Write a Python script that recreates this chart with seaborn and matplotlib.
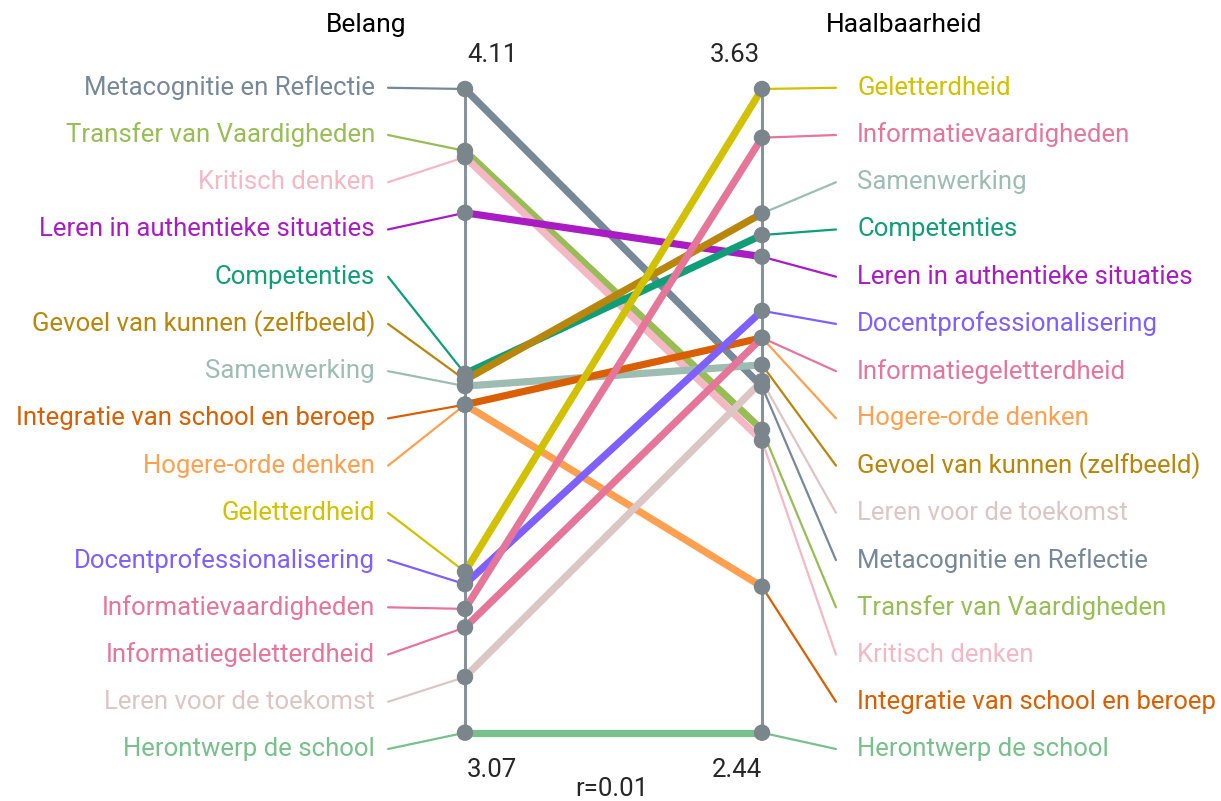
import numpy as np
import pandas as pd
import matplotlib
matplotlib.use('Agg')
import matplotlib.pyplot as plt
import seaborn as sns

sns.set_style('white')
plt.rcParams['font.family'] = ['Roboto', 'DejaVu Sans']

# thema's in volgorde van belang
themas = [
    'Metacognitie en Reflectie', 'Transfer van Vaardigheden', 'Kritisch denken',
    'Leren in authentieke situaties', 'Competenties', 'Gevoel van kunnen (zelfbeeld)',
    'Samenwerking', 'Integratie van school en beroep', 'Hogere-orde denken',
    'Geletterdheid', 'Docentprofessionalisering', 'Informatievaardigheden',
    'Informatiegeletterdheid', 'Leren voor de toekomst', 'Herontwerp de school',
]
belang = [4.11, 4.01, 4.00, 3.91, 3.65, 3.64, 3.63, 3.60, 3.60,
          3.33, 3.31, 3.27, 3.24, 3.16, 3.07]
haalbaarheid = [3.08, 3.00, 2.98, 3.32, 3.36, 3.40, 3.12, 3.17, 2.71,
                3.63, 3.22, 3.54, 3.17, 3.09, 2.44]
kleuren = ['#778899', '#98bd55', '#f4b8c5', '#a91cc4', '#109e78', '#b8860b',
           '#9dbdb2', '#d95f02', '#ffa050', '#d1c100', '#7e5fff', '#e5769a',
           '#e5769a', '#dcc6c4', '#78c08c']
# volgorde van de labels rechts zoals in de bron
volgorde_rechts = [
    'Geletterdheid', 'Informatievaardigheden', 'Samenwerking', 'Competenties',
    'Leren in authentieke situaties', 'Docentprofessionalisering',
    'Informatiegeletterdheid', 'Hogere-orde denken', 'Gevoel van kunnen (zelfbeeld)',
    'Leren voor de toekomst', 'Metacognitie en Reflectie', 'Transfer van Vaardigheden',
    'Kritisch denken', 'Integratie van school en beroep', 'Herontwerp de school',
]
kop_links, kop_rechts = 'Belang', 'Haalbaarheid'
r_tekst = 'r=0.01'

kleur = dict(zip(themas, kleuren))
AS_KLEUR = '#87939c'
DOT_KLEUR = '#7b858c'
FS = 18.5


def norm(v, vals):
    vals = np.asarray(vals)
    return (np.asarray(v) - vals.min()) / (vals.max() - vals.min())


yl = norm(belang, belang)
yr = norm(haalbaarheid, haalbaarheid)

df = pd.DataFrame({
    'thema': themas * 2,
    'x': [0] * len(themas) + [1] * len(themas),
    'y': np.concatenate([yl, yr]),
})

fig = plt.figure(figsize=(12.21, 8.01), dpi=100)
ax = fig.add_axes([465 / 1221, 68.3 / 801, 297 / 1221, 643.7 / 801])
ax.set_xlim(0, 1)
ax.set_ylim(0, 1)
ax.axis('off')

# verticale assen
for x in (0, 1):
    ax.plot([x, x], [0, 1], color=AS_KLEUR, lw=2.2, zorder=1, clip_on=False)

sns.lineplot(data=df, x='x', y='y', hue='thema', palette=kleur, units='thema',
             estimator=None, sort=False, lw=5.2, legend=False, ax=ax, zorder=2)
for line in ax.lines[2:]:
    line.set_solid_capstyle('butt')
    line.set_clip_on(False)

# labels: even verdeeld van boven naar beneden
n = len(themas)
label_y = np.linspace(1.0019, -0.0253, n)

ys_links = np.sort(yl)[::-1]
for k, t in enumerate(themas):
    ax.plot([-0.259, 0], [label_y[k], ys_links[k]], color=kleur[t], lw=1.6,
            zorder=1.5, clip_on=False)
    ax.text(-0.303, label_y[k], t, color=kleur[t], ha='right', va='center',
            fontsize=FS)

ys_rechts = np.sort(yr)[::-1]
for k, t in enumerate(volgorde_rechts):
    ax.plot([1, 1.249], [ys_rechts[k], label_y[k]], color=kleur[t], lw=1.6,
            zorder=1.5, clip_on=False)
    ax.text(1.32, label_y[k], t, color=kleur[t], ha='left', va='center',
            fontsize=FS)

sns.scatterplot(data=df, x='x', y='y', color=DOT_KLEUR, s=140, edgecolor='none',
                legend=False, ax=ax, zorder=4, clip_on=False)

ax.text(-0.333, 1.099, kop_links, ha='center', va='center', fontsize=19, color='black')
ax.text(1.48, 1.099, kop_rechts, ha='center', va='center', fontsize=19, color='black')
ax.text(0.091, 1.053, f'{max(belang):.2f}', ha='center', va='center', fontsize=FS)
ax.text(0.909, 1.053, f'{max(haalbaarheid):.2f}', ha='center', va='center', fontsize=FS)
ax.text(0.091, -0.058, f'{min(belang):.2f}', ha='center', va='center', fontsize=FS)
ax.text(0.916, -0.058, f'{min(haalbaarheid):.2f}', ha='center', va='center', fontsize=FS)
ax.text(0.495, -0.088, r_tekst, ha='center', va='center', fontsize=FS)

fig.savefig('out.png', dpi=100)
